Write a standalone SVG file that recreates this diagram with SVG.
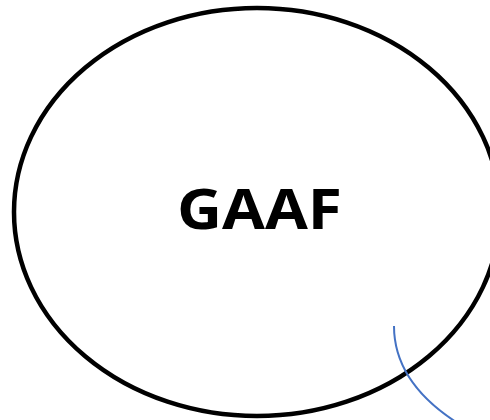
<svg xmlns="http://www.w3.org/2000/svg" width="490" height="420" viewBox="0 0 490 420">
<style>
.node{fill:none;stroke:#000;stroke-width:4.5}
.lbl{font-family:"Open Sans","Liberation Sans",sans-serif;font-weight:bold;font-size:56px;fill:#000}
.conn{fill:none;stroke:#4472C4;stroke-width:2}
</style>
<rect width="490" height="420" fill="#fff"/>
<g id="gaaf">
<ellipse class="node" cx="257" cy="212" rx="243" ry="204"/>
<text class="lbl" x="177" y="229" textLength="165" lengthAdjust="spacingAndGlyphs">GAAF</text>
</g>
<g id="connectors">
<path class="conn" d="M394,326 C394,358 410,392 456,422"/>
</g>
</svg>
